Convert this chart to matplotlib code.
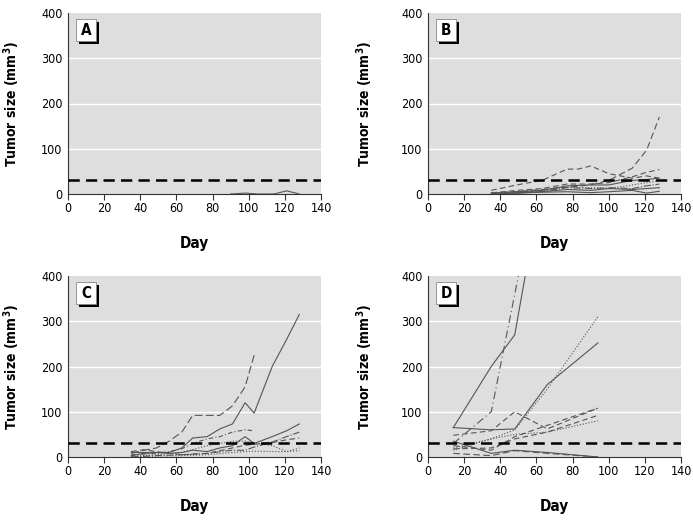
import numpy as np
import matplotlib
matplotlib.use("Agg")
import matplotlib.pyplot as plt
from matplotlib import font_manager
from matplotlib.patches import Rectangle

# narrow sans font, if one is installed
narrow = None
for f in font_manager.fontManager.ttflist:
    if 'Narrow' in f.name or 'Condensed' in f.name or f.stretch in ('condensed', 'semi-condensed'):
        narrow = f
        break
if narrow is not None:
    plt.rcParams['font.family'] = [narrow.name, 'DejaVu Sans']
    plt.rcParams['font.stretch'] = narrow.stretch
else:
    plt.rcParams['font.family'] = ['DejaVu Sans']

# threshold (mm3)
threshold = 30

# panel A
a_days = [[90, 98, 105, 114, 121, 128]]
a_vals = [[0, 2, 0, 0, 7, 0]]
a_styles = ['-']

# panel B
b_days = [
    [35, 49, 63, 77, 90, 100, 113, 121, 128],
    [35, 49, 63, 77, 83, 90, 100, 113, 121, 128],
    [35, 49, 63, 77, 90, 100, 113, 121, 128],
    [35, 49, 63, 77, 90, 100, 113, 121, 128],
    [35, 49, 63, 77, 90, 100, 113, 121, 128],
    [35, 49, 63, 77, 90, 100, 113, 121, 128],
    [35, 49, 63, 77, 90, 100, 113, 121, 128],
    [35, 49, 63, 77, 90, 100, 113, 121, 128],
]
b_vals = [
    [3, 5, 10, 15, 20, 30, 57, 97, 170],
    [8, 20, 30, 55, 55, 62, 45, 35, 40, 35],
    [2, 8, 12, 22, 22, 25, 38, 48, 54],
    [2, 5, 8, 18, 20, 20, 30, 32, 35],
    [1, 4, 8, 15, 14, 12, 20, 25, 30],
    [1, 2, 5, 10, 8, 12, 10, 12, 14],
    [0, 3, 6, 14, 12, 14, 12, 18, 22],
    [0, 2, 4, 5, 3, 5, 8, 2, 6],
]
b_styles = [(0, (6, 3)), (0, (5, 3)), (0, (5, 3)), '-', ':', '-', '-.', '-']

# panel C
c_days = [
    [35, 49, 56, 63, 69, 77, 84, 91, 98, 103, 113, 121, 128],
    [35, 42, 49, 56, 63, 69, 77, 84, 91, 98, 103],
    [35, 49, 56, 63, 69, 77, 84, 91, 98, 103],
    [35, 42, 49, 56, 63, 69, 77, 84, 91, 98, 103, 113, 121, 128],
    [35, 42, 49, 56, 63, 77, 91, 98, 113, 121, 128],
    [35, 49, 63, 77, 91, 98, 113, 121, 128],
    [35, 49, 63, 77, 91, 98, 103, 113, 121, 128],
    [35, 49, 63, 77, 91, 103, 113, 121, 128],
]
c_vals = [
    [10, 10, 10, 20, 42, 45, 62, 73, 120, 97, 200, 260, 315],
    [8, 15, 20, 35, 55, 92, 92, 92, 113, 155, 225],
    [5, 8, 12, 18, 30, 40, 45, 55, 60, 58],
    [3, 8, 10, 8, 10, 15, 12, 20, 25, 45, 30, 45, 58, 73],
    [12, 16, 12, 8, 5, 8, 20, 26, 32, 38, 42],
    [2, 5, 10, 25, 35, 35, 25, 12, 20],
    [0, 3, 5, 8, 15, 15, 22, 33, 45, 55],
    [1, 2, 3, 5, 10, 13, 12, 12, 14],
]
c_styles = ['-', (0, (7, 3)), (0, (4, 2, 1, 2)), '-', (0, (5, 3)), ':', '-.', ':']

# panel D
d_days = [
    [14, 35, 48, 56],
    [14, 35, 51],
    [14, 35, 48, 66, 94],
    [14, 35, 48, 66, 94],
    [14, 35, 48, 66, 94],
    [14, 35, 48, 66, 94],
    [14, 35, 48, 66, 94],
    [14, 35, 48, 66, 94],
    [14, 35, 48, 66, 94],
    [14, 35, 48, 66, 94],
]
d_vals = [
    [65, 200, 270, 450],
    [30, 100, 420],
    [20, 40, 60, 150, 310],
    [65, 60, 62, 160, 252],
    [48, 58, 100, 62, 108],
    [25, 15, 45, 70, 108],
    [18, 20, 40, 55, 92],
    [15, 40, 50, 55, 80],
    [35, 8, 15, 10, 0],
    [8, 3, 14, 8, 0],
]
d_styles = ['-', (0, (7, 3, 1, 3)), ':', '-', (0, (5, 3)), (0, (5, 3)), (0, (5, 3)), ':', '-', (0, (6, 3))]

panels = [
    ('A', a_days, a_vals, a_styles),
    ('B', b_days, b_vals, b_styles),
    ('C', c_days, c_vals, c_styles),
    ('D', d_days, d_vals, d_styles),
]

fig = plt.figure(figsize=(6.93, 5.21), dpi=100)
W, H = 693.0, 521.0
# axes boxes in pixels: left, top, right, bottom
boxes = [(68, 13, 321, 194), (428, 13, 681, 194), (68, 276, 321, 457), (428, 276, 681, 457)]
ylab_x = [-0.18, -0.21, -0.18, -0.21]

for (letter, days, vals, styles), box, lx in zip(panels, boxes, ylab_x):
    l, t, r, b = box
    ax = fig.add_axes([l / W, 1 - b / H, (r - l) / W, (b - t) / H])
    ax.set_facecolor('#dedede')
    ax.set_xlim(0, 140)
    ax.set_ylim(0, 400)
    for g in [100, 200, 300]:
        ax.axhline(g, color='white', lw=1.0, zorder=1)
    for dd, vv, st in zip(days, vals, styles):
        ax.plot(dd, vv, color='#555555', lw=0.8, linestyle=st, zorder=3)
    ax.axhline(threshold, color='black', lw=1.8, linestyle=(0, (4.5, 2.5)), zorder=4)

    for s in ['top', 'right']:
        ax.spines[s].set_visible(False)
    ax.spines['left'].set_color('#333333')
    ax.spines['bottom'].set_color('#333333')
    ax.set_xticks(range(0, 141, 20))
    ax.set_yticks([0, 100, 200, 300, 400])
    ax.tick_params(axis='x', length=4, width=0.8, color='#333333', labelsize=9, pad=2)
    ax.tick_params(axis='y', length=0, labelsize=9, pad=4)

    ax.set_ylabel('Tumor size (mm$^\\mathbf{3}$)', fontsize=10, fontweight='bold')
    ax.yaxis.set_label_coords(lx, 0.5)
    ax.set_xlabel('Day', fontsize=11, fontweight='bold')
    ax.xaxis.set_label_coords(0.5, -0.23)

    # panel letter box with shadow
    bx, by, bw, bh = 0.032, 0.845, 0.079, 0.122
    ax.add_patch(Rectangle((bx + 0.012, by - 0.017), bw, bh, transform=ax.transAxes,
                           facecolor='black', edgecolor='none', zorder=5, clip_on=False))
    ax.add_patch(Rectangle((bx, by), bw, bh, transform=ax.transAxes,
                           facecolor='white', edgecolor='#888888', lw=0.6, zorder=6, clip_on=False))
    ax.text(bx + bw / 2, by + bh / 2, letter, transform=ax.transAxes, ha='center', va='center',
            fontsize=11, fontweight='bold', zorder=7)

fig.savefig('out.png', dpi=100)
